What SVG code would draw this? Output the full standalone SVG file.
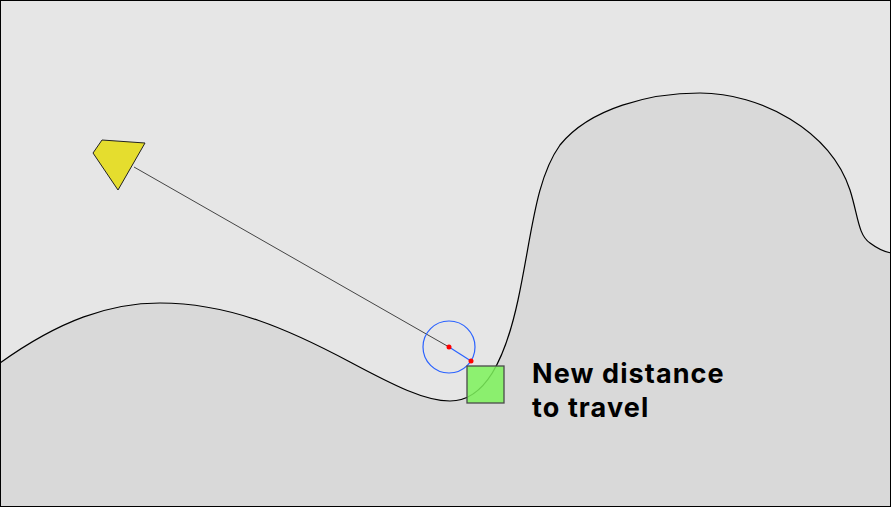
<svg xmlns="http://www.w3.org/2000/svg" width="891" height="507" viewBox="0 0 891 507">
<style>
.ground{fill:#d9d9d9;stroke:#000;stroke-width:1.2}
.dot{fill:#ff0000}
.lbl{font-family:Inter,"Liberation Sans",sans-serif;font-weight:700;font-size:27px;letter-spacing:1.1px;fill:#000}
</style>
<rect x="0" y="0" width="891" height="507" fill="#e6e6e6"/>
<g id="terrain">
<path class="ground" d="M0,363 C60,320 110,303 160,303 C230,303 290,330 350,362 C395,386 425,401 450,401 C485,401 505,360 518,300 C532,235 535,180 560,145 C590,108 650,93 700,93 C760,93 830,130 850,190 C858,215 858,235 870,243 C878,249 885,252 891,253 L891,507 L0,507 Z"/>
</g>
<g id="connectors">
<line x1="134" y1="167" x2="449" y2="347" stroke="#444" stroke-width="1"/>
<line x1="449" y1="347" x2="471" y2="361" stroke="#2a62ff" stroke-width="1.2"/>
</g>
<g id="agent">
<polygon points="102,140 145,143 118,190 93,153" fill="#e5dd2e" stroke="#222" stroke-width="1"/>
</g>
<g id="probe">
<circle cx="449" cy="347" r="26" fill="none" stroke="#2a62ff" stroke-width="1.2"/>
<circle class="dot" cx="449" cy="347" r="2.5"/>
<circle class="dot" cx="471" cy="361" r="2.5"/>
</g>
<g id="target">
<rect x="467" y="366" width="37" height="37" fill="#7df25a" fill-opacity="0.85" stroke="#4a4a4a" stroke-width="1.3"/>
</g>
<g id="label">
<text class="lbl" x="532" y="383">New distance</text>
<text class="lbl" x="532" y="417">to travel</text>
</g>
<rect x="0.5" y="0.5" width="890" height="506" fill="none" stroke="#000" stroke-width="1"/>
</svg>
